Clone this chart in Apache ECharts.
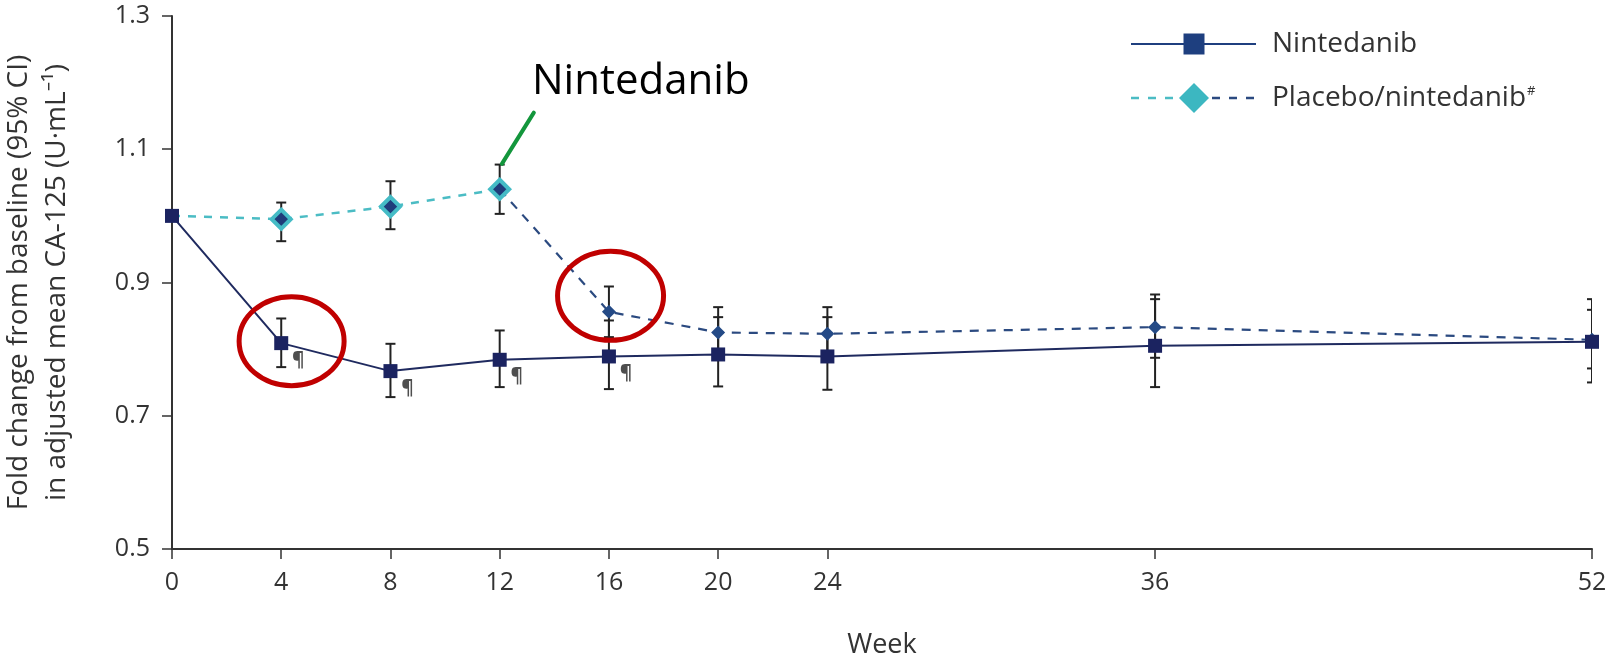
<!DOCTYPE html>
<html><head><meta charset="utf-8">
<script src="https://cdn.jsdelivr.net/npm/echarts@6/dist/echarts.min.js"></script>
<style>html,body{margin:0;padding:0;background:#fff}#c{width:1607px;height:656px}</style>
</head><body><div id="c"></div>
<script>
// ---- data ----
const weeks = [0, 4, 8, 12, 16, 20, 24, 36, 52];
const xTickLabels = [0, 4, 8, 12, 16, 20, 24, 36, 52];
const yTickLabels = [0.5, 0.7, 0.9, 1.1, 1.3];
const nintedanib     = [1.000, 0.809, 0.767, 0.784, 0.789, 0.792, 0.789, 0.805, 0.811];
const nintedanibLow  = [null,  0.773, 0.728, 0.743, 0.740, 0.744, 0.739, 0.743, 0.750];
const nintedanibHigh = [null,  0.846, 0.808, 0.828, 0.843, 0.848, 0.848, 0.875, 0.875];
const placebo        = [1.000, 0.995, 1.014, 1.040, 0.856, 0.825, 0.823, 0.833, 0.814];
const placeboLow     = [null,  0.962, 0.980, 1.003, 0.818, 0.790, 0.790, 0.787, 0.771];
const placeboHigh    = [null,  1.020, 1.052, 1.077, 0.894, 0.863, 0.863, 0.882, 0.859];
const switchWeek = 12;            // placebo patients switched to nintedanib after week 12
const paraWeeks = [4, 8, 12, 16]; // points marked with ¶

const FONT = '"Open Sans", "Noto Sans", sans-serif';
const chart = echarts.init(document.getElementById('c'), null, {renderer: 'canvas'});

function errData(lo, hi) {
  return weeks.map((w, i) => lo[i] == null ? null : [w, lo[i], hi[i]]).filter(Boolean);
}
function errorBars(name, lo, hi) {
  return {
    type: 'custom', name, data: errData(lo, hi), clip: true, z: 1, silent: true,
    encode: {x: 0, y: [1, 2]},
    renderItem(params, api) {
      const x = api.value(0);
      const a = api.coord([x, api.value(1)]);
      const b = api.coord([x, api.value(2)]);
      const hw = 5;
      const style = {stroke: '#222', lineWidth: 2};
      return {type: 'group', children: [
        {type: 'line', shape: {x1: a[0], y1: a[1], x2: b[0], y2: b[1]}, style},
        {type: 'line', shape: {x1: a[0] - hw, y1: a[1], x2: a[0] + hw, y2: a[1]}, style},
        {type: 'line', shape: {x1: b[0] - hw, y1: b[1], x2: b[0] + hw, y2: b[1]}, style}
      ]};
    }
  };
}

const placeboA = weeks.map((w, i) => w <= switchWeek ? (w === 0 ? {value: [w, placebo[i]], symbol: 'none'} : [w, placebo[i]]) : null).filter(Boolean);
const placeboB = weeks.map((w, i) => w >= switchWeek ? (w === switchWeek ? {value: [w, placebo[i]], symbol: 'none'} : [w, placebo[i]]) : null).filter(Boolean);
const ninData = weeks.map((w, i) => [w, nintedanib[i]]);
const paraData = paraWeeks.map(w => [w, nintedanib[weeks.indexOf(w)]]);

const option = {
  backgroundColor: '#fff',
  animation: false,
  grid: {left: 172, right: 15, top: 16, bottom: 107, containLabel: false, outerBoundsMode: 'none'},
  xAxis: {
    type: 'value', min: 0, max: 52,
    name: 'Week', nameLocation: 'middle', nameGap: 83,
    nameTextStyle: {fontFamily: FONT, fontSize: 27, color: '#333'},
    axisLine: {show: true, lineStyle: {color: '#333', width: 2}},
    axisTick: {show: true, length: 10, lineStyle: {color: '#333', width: 1.5}, customValues: xTickLabels},
    axisLabel: {customValues: xTickLabels, margin: 21, fontFamily: FONT, fontSize: 25, color: '#333'},
    splitLine: {show: false}
  },
  yAxis: {
    type: 'value', min: 0.5, max: 1.3,
    name: 'Fold change from baseline (95% CI)\nin adjusted mean CA-125 (U·mL⁻¹)',
    nameLocation: 'middle', nameGap: 96, nameRotate: 90,
    nameTextStyle: {fontFamily: FONT, fontSize: 28, color: '#333', lineHeight: 38},
    axisLine: {show: true, lineStyle: {color: '#333', width: 2}},
    axisTick: {show: true, length: 10, lineStyle: {color: '#333', width: 1.5}, customValues: yTickLabels},
    axisLabel: {customValues: yTickLabels, margin: 22, fontFamily: FONT, fontSize: 25, color: '#333',
      formatter: v => v.toFixed(1)},
    splitLine: {show: false}
  },
  series: [
    errorBars('ci-placebo', placeboLow, placeboHigh),
    errorBars('ci-nintedanib', nintedanibLow, nintedanibHigh),
    {
      type: 'line', name: 'Placebo/nintedanib (after switch)', data: placeboB, z: 3,
      symbol: 'diamond', symbolSize: 14,
      itemStyle: {color: '#244a86'},
      lineStyle: {color: '#2b4a80', width: 2.2, type: [9, 8]}
    },
    {
      type: 'line', name: 'Placebo/nintedanib', data: placeboA, z: 4,
      symbol: 'diamond', symbolSize: 19,
      itemStyle: {color: '#1f3c7a', borderColor: '#45bcc6', borderWidth: 4},
      lineStyle: {color: '#4bbcc4', width: 2.5, type: [8, 8]}
    },
    {
      type: 'line', name: 'Nintedanib', data: ninData, z: 5,
      symbol: 'rect', symbolSize: 14,
      itemStyle: {color: '#1b2360'},
      lineStyle: {color: '#1f2a5f', width: 2}
    },
    {
      type: 'scatter', name: 'para', data: paraData, z: 6, silent: true,
      symbolSize: 1, itemStyle: {color: 'rgba(0,0,0,0)'},
      label: {show: true, formatter: '¶', position: 'inside', offset: [17, 17],
        fontSize: 19, fontWeight: 'bold', color: '#222', fontFamily: FONT}
    }
  ]
};
chart.setOption(option);

// ---- annotations (anchored in data coordinates) ----
const px = p => chart.convertToPixel({gridIndex: 0}, p);
const e1 = px([4.38, 0.812]);
const e2 = px([16.06, 0.880]);
const g1 = px([12.08, 1.078]);
const g2 = px([13.25, 1.155]);
const red = '#c00000';

chart.setOption({
  graphic: [
    {type: 'ellipse', shape: {cx: e1[0], cy: e1[1], rx: 52.5, ry: 44.5}, style: {fill: 'none', stroke: red, lineWidth: 5}, z: 20},
    {type: 'ellipse', shape: {cx: e2[0], cy: e2[1], rx: 53, ry: 44.5}, style: {fill: 'none', stroke: red, lineWidth: 5}, z: 20},
    {type: 'line', shape: {x1: g1[0], y1: g1[1], x2: g2[0], y2: g2[1]}, style: {stroke: '#13963c', lineWidth: 4, lineCap: 'round'}, z: 20},
    {type: 'text', left: 532, top: 61, style: {text: 'Nintedanib', font: '42px ' + FONT, fill: '#000'}, z: 20},
    // legend
    {type: 'line', shape: {x1: 1131, y1: 44, x2: 1256, y2: 44}, style: {stroke: '#1f3f7f', lineWidth: 2}, z: 20},
    {type: 'rect', shape: {x: 1183.5, y: 33.5, width: 21, height: 21}, style: {fill: '#1e3f7f'}, z: 21},
    {type: 'text', x: 1272, y: 44, style: {text: 'Nintedanib', font: '28px ' + FONT, fill: '#333', verticalAlign: 'middle'}, z: 20},
    {type: 'line', shape: {x1: 1131, y1: 98, x2: 1182, y2: 98}, style: {stroke: '#4bbcc4', lineWidth: 2.5, lineDash: [8, 9]}, z: 20},
    {type: 'line', shape: {x1: 1212, y1: 98, x2: 1256, y2: 98}, style: {stroke: '#2b4a80', lineWidth: 2.5, lineDash: [8, 9]}, z: 20},
    {type: 'polygon', shape: {points: [[1194, 83], [1209, 98], [1194, 113], [1179, 98]]}, style: {fill: '#3cb7c1'}, z: 21},
    {type: 'text', x: 1272, y: 98, style: {
      text: 'Placebo/nintedanib{s|#}', font: '28px ' + FONT, fill: '#333', verticalAlign: 'middle',
      rich: {s: {fontSize: 13, fontFamily: FONT, fill: '#333', padding: [0, 0, 14, 1]}}
    }, z: 20}
  ]
});
</script>
</body></html>
